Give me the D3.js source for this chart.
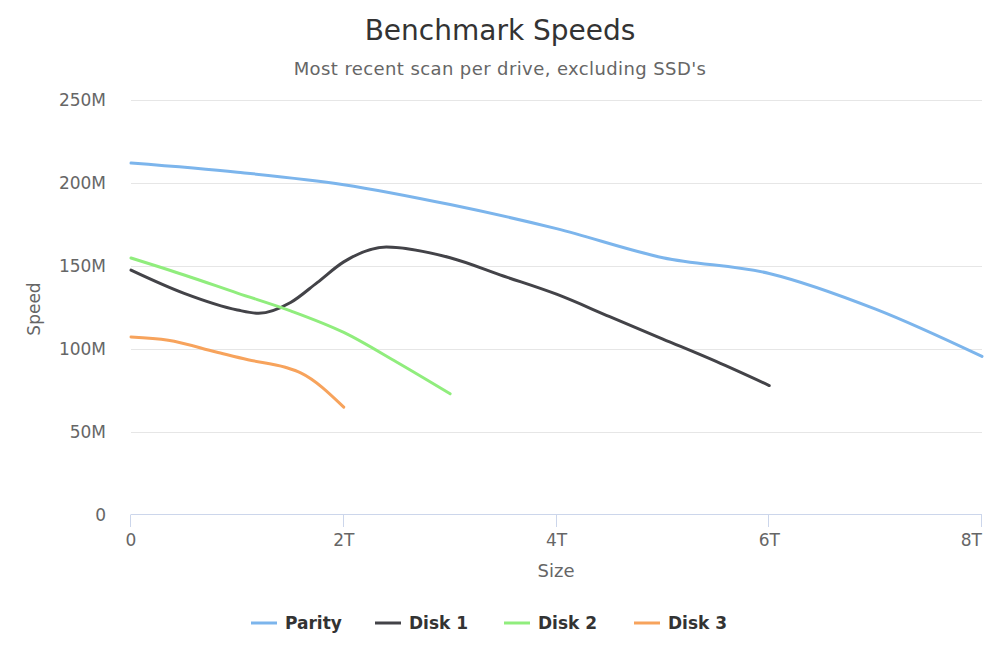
<!DOCTYPE html>
<html lang="en">
<head>
<meta charset="UTF-8">
<title>Benchmark Speeds</title>
<script src="https://d3js.org/d3.v7.min.js"></script>
<style>
    body { margin: 0; background: #fff; }
    text { font-family: "DejaVu Sans", sans-serif; }
</style>
</head>
<body>
<svg id="chart" width="1000" height="667"></svg>
<script>
// sizes in TB, speeds in MB/s
const seriesNames = ["Parity", "Disk 1", "Disk 2", "Disk 3"];
const seriesColors = ["#7cb5ec", "#434348", "#90ed7d", "#f7a35c"];

const paritySize = [0, 1, 2, 3, 4, 5, 6, 7, 8];
const paritySpeed = [212, 206.5, 199, 187, 172.5, 155, 145.5, 124, 95.5];

const disk1Size = [0, 0.5, 1, 1.2, 1.5, 1.75, 2, 2.4, 3, 3.5, 4, 4.5, 5, 5.5, 6];
const disk1Speed = [147.5, 133.5, 123.5, 121.5, 128, 140, 152.5, 161.5, 155, 144, 133, 119.5, 106, 92.5, 78];

const disk2Size = [0, 0.5, 1, 1.5, 2, 2.5, 3];
const disk2Speed = [154.8, 144.6, 133.7, 123, 110, 92, 73];

const disk3Size = [0, 0.35, 0.8, 1.1, 1.45, 1.6, 2];
const disk3Speed = [107.2, 105.3, 98.2, 93.5, 89, 85.5, 65];

const xTicks = [0, 2, 4, 6, 8];
const yTicks = [0, 50, 100, 150, 200, 250];

const series = [
    [paritySize, paritySpeed],
    [disk1Size, disk1Speed],
    [disk2Size, disk2Speed],
    [disk3Size, disk3Speed]
].map(([xs, ys], i) => ({
    name: seriesNames[i],
    color: seriesColors[i],
    points: xs.map((x, j) => ({ x: x, y: ys[j] }))
}));

const svg = d3.select("#chart");
const plotLeft = 131, plotRight = 982, plotTop = 100, plotBottom = 515;

const x = d3.scaleLinear().domain([0, 8]).range([plotLeft, plotRight]);
const y = d3.scaleLinear().domain([0, 250]).range([plotBottom, plotTop]);

// title
svg.append("text")
    .attr("x", 500).attr("y", 40)
    .attr("text-anchor", "middle")
    .attr("font-size", "28px")
    .attr("fill", "#333")
    .text("Benchmark Speeds");

svg.append("text")
    .attr("x", 500).attr("y", 75)
    .attr("text-anchor", "middle")
    .attr("font-size", "18px")
    .attr("letter-spacing", "0.4px")
    .attr("fill", "#666")
    .text("Most recent scan per drive, excluding SSD's");

// grid lines
svg.append("g")
    .selectAll("line")
    .data(yTicks.filter(d => d > 0))
    .enter()
    .append("line")
    .attr("x1", plotLeft).attr("x2", plotRight)
    .attr("y1", d => y(d) + 0.5).attr("y2", d => y(d) + 0.5)
    .attr("stroke", "#e6e6e6");

// y axis labels
svg.append("g")
    .selectAll("text")
    .data(yTicks)
    .enter()
    .append("text")
    .attr("x", 106)
    .attr("y", d => y(d) + 6)
    .attr("text-anchor", "end")
    .attr("font-size", "17px")
    .attr("fill", "#666")
    .text(d => d === 0 ? "0" : d + "M");

svg.append("text")
    .attr("transform", "translate(40,309) rotate(-90)")
    .attr("text-anchor", "middle")
    .attr("font-size", "17px")
    .attr("fill", "#666")
    .text("Speed");

// x axis
const xAxis = svg.append("g");
xAxis.append("line")
    .attr("x1", plotLeft).attr("x2", plotRight)
    .attr("y1", plotBottom - 0.5).attr("y2", plotBottom - 0.5)
    .attr("stroke", "#ccd6eb");

xAxis.selectAll(".tick")
    .data(xTicks)
    .enter()
    .append("line")
    .attr("x1", d => Math.round(x(d)) - 0.5).attr("x2", d => Math.round(x(d)) - 0.5)
    .attr("y1", plotBottom - 0.5).attr("y2", plotBottom + 12)
    .attr("stroke", "#ccd6eb");

xAxis.selectAll("text")
    .data(xTicks)
    .enter()
    .append("text")
    .attr("x", d => x(d))
    .attr("y", 546)
    .attr("text-anchor", (d, i) => i === xTicks.length - 1 ? "end" : "middle")
    .attr("font-size", "17px")
    .attr("fill", "#666")
    .text(d => d === 0 ? "0" : d + "T");

svg.append("text")
    .attr("x", 556).attr("y", 577)
    .attr("text-anchor", "middle")
    .attr("font-size", "18px")
    .attr("fill", "#666")
    .text("Size");

// lines
const line = d3.line()
    .x(d => x(d.x))
    .y(d => y(d.y))
    .curve(d3.curveMonotoneX);

svg.append("g")
    .selectAll("path")
    .data(series)
    .enter()
    .append("path")
    .attr("d", d => line(d.points))
    .attr("fill", "none")
    .attr("stroke", d => d.color)
    .attr("stroke-width", 3)
    .attr("stroke-linecap", "round")
    .attr("stroke-linejoin", "round");

// legend
const legendX = [251, 375, 504, 634];
const legend = svg.append("g")
    .selectAll("g")
    .data(series)
    .enter()
    .append("g")
    .attr("transform", (d, i) => `translate(${legendX[i]},623)`);

legend.append("line")
    .attr("x1", 0).attr("x2", 26)
    .attr("stroke", d => d.color)
    .attr("stroke-width", 3);

legend.append("text")
    .attr("x", 34).attr("y", 6)
    .attr("font-size", "17px")
    .attr("font-weight", "bold")
    .attr("fill", "#333")
    .text(d => d.name);
</script>
</body>
</html>
